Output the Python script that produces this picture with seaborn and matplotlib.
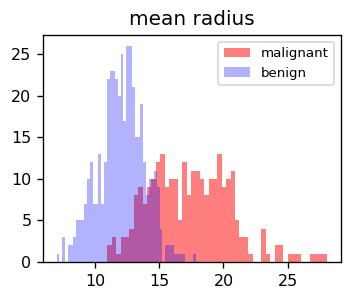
import numpy as np
import pandas as pd
import matplotlib
matplotlib.use("Agg")
import matplotlib.pyplot as plt
import seaborn as sns

title = "mean radius"
labels = ["malignant", "benign"]

# bin ranges (first edge, last edge); 50 bins each
malignant_range = (10.95, 28.11)
benign_range = (6.981, 17.85)

malignant_counts = [2, 3, 1, 3, 3, 4, 8, 9, 7, 9,
                    10, 12, 13, 9, 10, 10, 5, 12, 8, 11,
                    11, 10, 8, 10, 10, 13, 9, 10, 11, 5,
                    3, 3, 1, 0, 0, 4, 1, 0, 2, 2,
                    0, 1, 1, 1, 0, 0, 1, 1, 1, 1]
benign_counts = [1, 0, 3, 0, 2, 2, 3, 5, 5, 5,
                 7, 10, 12, 7, 7, 13, 7, 12, 22, 23,
                 23, 22, 20, 25, 17, 26, 26, 21, 15, 15,
                 19, 12, 8, 10, 10, 11, 9, 4, 0, 2,
                 2, 2, 1, 1, 1, 1, 0, 0, 0, 1]

xticks = [10, 15, 20, 25]
yticks = [0, 5, 10, 15, 20, 25]

fig, ax = plt.subplots(figsize=(353 / 120, 300 / 120), dpi=120)
fig.subplots_adjust(left=0.122, right=0.966, bottom=0.127, top=0.883)

series = [
    (malignant_counts, malignant_range, "r", 0.5, labels[0]),
    (benign_counts, benign_range, "b", 0.3, labels[1]),
]
for counts, rng, color, alpha, label in series:
    edges = np.linspace(rng[0], rng[1], len(counts) + 1)
    df = pd.DataFrame({"x": (edges[:-1] + edges[1:]) / 2,
                       "count": counts})
    sns.histplot(data=df, x="x", weights="count", bins=edges.tolist(),
                 color=color, alpha=alpha, linewidth=0, edgecolor="none",
                 label=label, ax=ax)

ax.set_title(title, fontsize=12)
ax.set_ylabel("")
ax.set_xlabel("")
ax.set_xticks(xticks)
ax.set_yticks(yticks)
ax.tick_params(labelsize=9.5)
ax.legend(loc="upper right", fontsize=8)

fig.savefig("out.png", dpi=120)
